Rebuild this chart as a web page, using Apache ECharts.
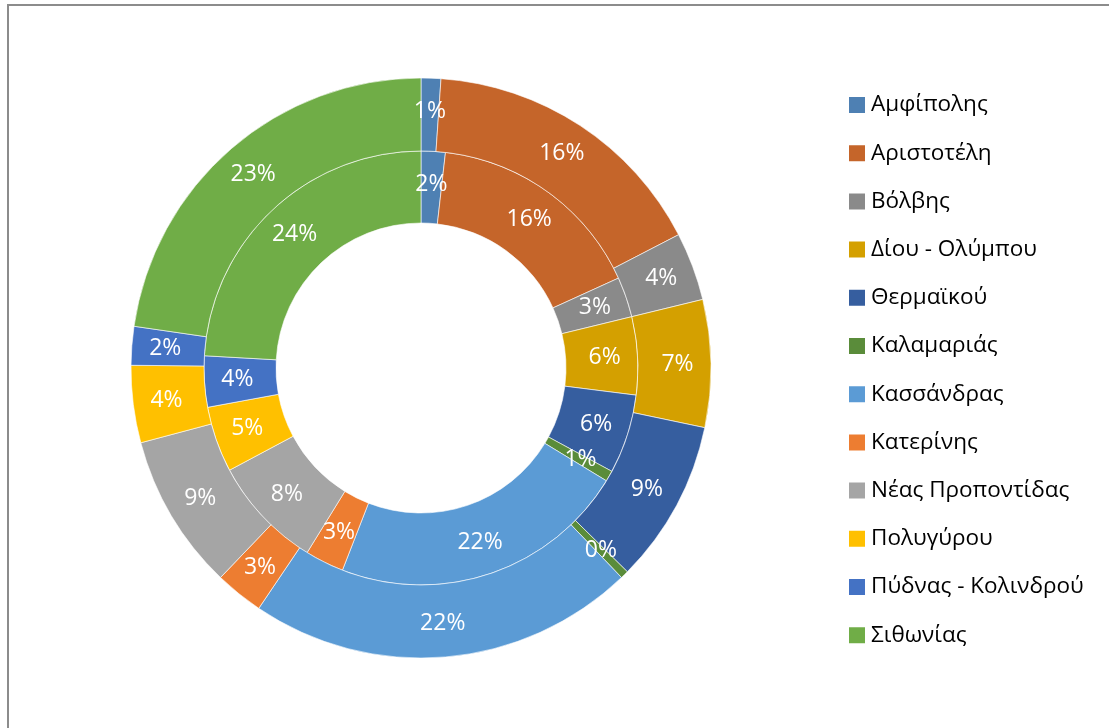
<!DOCTYPE html>
<html>
<head>
<meta charset="utf-8">
<script src="https://cdn.jsdelivr.net/npm/echarts@6/dist/echarts.min.js"></script>
<style>
  html, body { margin: 0; padding: 0; background: #fff; }
  #frame {
    position: absolute; left: 7px; top: 4px; width: 1200px; height: 800px;
    border-left: 2px solid #8c8c8c; border-top: 2px solid #8c8c8c;
  }
  #chart { position: absolute; left: 0; top: 0; width: 1109px; height: 728px; }
</style>
</head>
<body>
<div id="frame"></div>
<div id="chart"></div>
<script>
// δήμοι (categories)
const municipalities = [
  'Αμφίπολης', 'Αριστοτέλη', 'Βόλβης', 'Δίου - Ολύμπου', 'Θερμαϊκού', 'Καλαμαριάς',
  'Κασσάνδρας', 'Κατερίνης', 'Νέας Προποντίδας', 'Πολυγύρου', 'Πύδνας - Κολινδρού', 'Σιθωνίας',
];
// inner ring shares
const innerValues = [1.8, 16.4, 3.0, 5.8, 5.9, 0.8, 22.2, 2.9, 8.4, 4.9, 3.8, 24.1];
// outer ring shares
const outerValues = [1.1, 16.3, 3.8, 7.1, 9.1, 0.45, 21.6, 2.7, 8.7, 4.3, 2.15, 22.7];

const colors = [
  '#4e80b3', '#c5652a', '#8a8a8a', '#d4a000', '#365e9f', '#5a8c3a',
  '#5b9bd5', '#ed7d31', '#a5a5a5', '#ffc000', '#4472c4', '#70ad47',
];

const FONT = '"Open Sans", "Noto Sans", sans-serif';

const myChart = echarts.init(document.getElementById('chart'));

const ring = (name, values, radius) => ({
  name,
  type: 'pie',
  center: [421, 368],
  radius,
  startAngle: 90,
  clockwise: true,
  avoidLabelOverlap: false,
  silent: true,
  percentPrecision: 0,
  itemStyle: { borderColor: '#fff', borderWidth: 0.6 },
  label: {
    show: true,
    position: 'inside',
    formatter: '{d}%',
    color: '#fff',
    fontFamily: FONT,
    fontSize: 23,
  },
  labelLine: { show: false },
  data: municipalities.map((m, i) => ({ name: m, value: values[i] })),
});

const option = {
  animation: false,
  color: colors,
  legend: {
    orient: 'vertical',
    left: 847,
    top: 93,
    padding: 0,
    icon: 'rect',
    itemWidth: 18,
    itemHeight: 18,
    itemGap: 24.2,
    textStyle: {
      fontFamily: FONT,
      fontSize: 22.5,
      color: '#000',
      lineHeight: 24,
      padding: [0, 0, 0, 0],
    },
    data: municipalities,
  },
  series: [
    ring('inner', innerValues, [145, 217]),
    ring('outer', outerValues, [217, 290]),
  ],
};

myChart.setOption(option);
window.addEventListener('resize', () => {
  myChart.resize();
});
</script>
</body>
</html>
